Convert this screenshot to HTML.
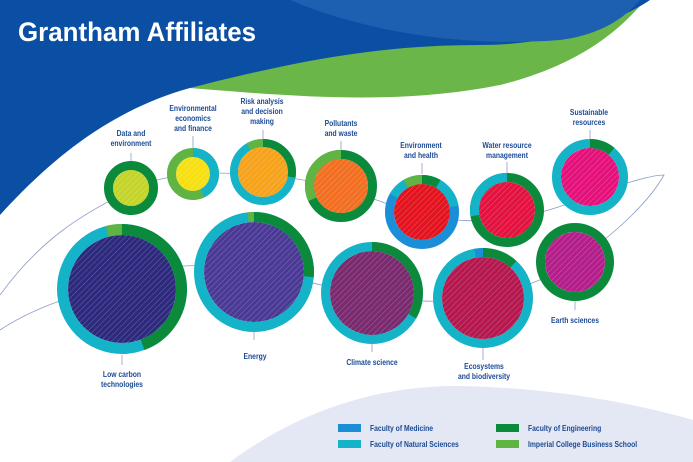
<!DOCTYPE html>
<html><head><meta charset="utf-8"><style>
html,body{margin:0;padding:0;background:#fff}
svg{display:block}
.l{font-family:"Liberation Sans",sans-serif;font-weight:bold;font-size:8.3px;fill:#1b4a94;text-anchor:middle}
.g{font-family:"Liberation Sans",sans-serif;font-weight:bold;font-size:8.3px;fill:#1b4a94}
</style></head><body>
<svg width="693" height="462" viewBox="0 0 693 462" xmlns="http://www.w3.org/2000/svg">
<defs>
<pattern id="h" width="4" height="4" patternUnits="userSpaceOnUse" patternTransform="rotate(45)">
<line x1="0" y1="0" x2="0" y2="4" stroke="#fff" stroke-opacity="0.35" stroke-width="0.8"/>
</pattern>
</defs>
<path d="M230,462 C300,410 380,385 460,386 C560,388 640,405 693,420 L693,462 Z" fill="#e4e7f4"/>
<path d="M190,88 C300,97 400,105 500,85 C580,65 620,30 645,0 L300,0 Z" fill="#6ab648"/>
<path d="M0,0 H693 L650,0 C620,20 560,45 480,45 C380,45 300,60 190,88 C110,110 50,160 0,215 Z" fill="#0a4fa3"/>
<path d="M290,0 C360,30 460,48 560,40 C600,35 625,18 640,0 Z" fill="#1d5fb0"/>
<text transform="translate(18,41) scale(0.96,1)" font-family="Liberation Sans,sans-serif" font-weight="bold" font-size="27" fill="#fff">Grantham Affiliates</text>
<g fill="none" stroke="#8d9cc8" stroke-width="0.8">
<path d="M0,295 C40,240 80,215 131,190 C160,175 200,170 263,175 C300,178 330,185 341,188 C380,200 400,210 422,215 C470,225 520,225 590,195 C620,185 650,175 664,175 C650,200 620,230 575,262"/>
<path d="M0,330 C30,310 60,300 122,280 C170,260 220,265 254,270 C300,280 340,290 372,295 C420,305 460,300 483,300 C520,290 550,275 575,265"/>
</g>
<g stroke="#8d9cc8" stroke-width="0.8">
<line x1="131" y1="153" x2="131" y2="161"/><line x1="193" y1="136" x2="193" y2="148"/>
<line x1="263" y1="130" x2="263" y2="139"/><line x1="341" y1="141" x2="341" y2="150"/>
<line x1="422" y1="163" x2="422" y2="174"/><line x1="507" y1="162" x2="507" y2="173"/>
<line x1="590" y1="130" x2="590" y2="139"/><line x1="122" y1="355" x2="122" y2="365"/>
<line x1="254" y1="330" x2="254" y2="340"/><line x1="372" y1="342" x2="372" y2="352"/>
<line x1="483" y1="348" x2="483" y2="360"/><line x1="575" y1="301" x2="575" y2="310"/>
</g>
<g fill="none">
<circle cx="131" cy="188" r="18" fill="#c5d42a"/><circle cx="131" cy="188" r="18" fill="url(#h)"/>
<circle cx="131" cy="188" r="22.5" stroke="#0a8a3a" stroke-width="9"/>
<circle cx="193" cy="174" r="17" fill="#f7e011"/><circle cx="193" cy="174" r="17" fill="url(#h)"/>
<circle cx="193" cy="174" r="21.5" stroke="#5fb443" stroke-width="9"/>
<circle cx="193" cy="174" r="21.5" stroke="#14b3c8" stroke-width="9" pathLength="360" stroke-dasharray="155 360" transform="rotate(-90 193 174)"/>
<circle cx="263" cy="172" r="25" fill="#f7a21b"/><circle cx="263" cy="172" r="25" fill="url(#h)"/>
<circle cx="263" cy="172" r="29" stroke="#14b3c8" stroke-width="8"/>
<circle cx="263" cy="172" r="29" stroke="#0a8a3a" stroke-width="8" pathLength="360" stroke-dasharray="100 360" transform="rotate(-90 263 172)"/>
<circle cx="263" cy="172" r="29" stroke="#5fb443" stroke-width="8" pathLength="360" stroke-dasharray="30 360" stroke-dashoffset="-330" transform="rotate(-90 263 172)"/>
<circle cx="341" cy="186" r="27" fill="#f26f21"/><circle cx="341" cy="186" r="27" fill="url(#h)"/>
<circle cx="341" cy="186" r="31.5" stroke="#0a8a3a" stroke-width="9"/>
<circle cx="341" cy="186" r="31.5" stroke="#5fb443" stroke-width="9" pathLength="360" stroke-dasharray="115 360" stroke-dashoffset="-245" transform="rotate(-90 341 186)"/>
<circle cx="422" cy="212" r="28" fill="#e3141f"/><circle cx="422" cy="212" r="28" fill="url(#h)"/>
<circle cx="422" cy="212" r="32.5" stroke="#1a8fd8" stroke-width="9"/>
<circle cx="422" cy="212" r="32.5" stroke="#0a8a3a" stroke-width="9" pathLength="360" stroke-dasharray="30 360" transform="rotate(-90 422 212)"/>
<circle cx="422" cy="212" r="32.5" stroke="#14b3c8" stroke-width="9" pathLength="360" stroke-dasharray="50 360" stroke-dashoffset="-30" transform="rotate(-90 422 212)"/>
<circle cx="422" cy="212" r="32.5" stroke="#14b3c8" stroke-width="9" pathLength="360" stroke-dasharray="30 360" stroke-dashoffset="-300" transform="rotate(-90 422 212)"/>
<circle cx="422" cy="212" r="32.5" stroke="#5fb443" stroke-width="9" pathLength="360" stroke-dasharray="30 360" stroke-dashoffset="-330" transform="rotate(-90 422 212)"/>
<circle cx="507" cy="210" r="28" fill="#e3123f"/><circle cx="507" cy="210" r="28" fill="url(#h)"/>
<circle cx="507" cy="210" r="32.5" stroke="#0a8a3a" stroke-width="9"/>
<circle cx="507" cy="210" r="32.5" stroke="#14b3c8" stroke-width="9" pathLength="360" stroke-dasharray="100 360" stroke-dashoffset="-260" transform="rotate(-90 507 210)"/>
<circle cx="590" cy="177" r="29" fill="#e4117a"/><circle cx="590" cy="177" r="29" fill="url(#h)"/>
<circle cx="590" cy="177" r="33.5" stroke="#14b3c8" stroke-width="9"/>
<circle cx="590" cy="177" r="33.5" stroke="#0a8a3a" stroke-width="9" pathLength="360" stroke-dasharray="40 360" transform="rotate(-90 590 177)"/>
<circle cx="122" cy="289" r="54" fill="#2d2a7e"/><circle cx="122" cy="289" r="54" fill="url(#h)"/>
<circle cx="122" cy="289" r="59.5" stroke="#14b3c8" stroke-width="11"/>
<circle cx="122" cy="289" r="59.5" stroke="#0a8a3a" stroke-width="11" pathLength="360" stroke-dasharray="160 360" transform="rotate(-90 122 289)"/>
<circle cx="122" cy="289" r="59.5" stroke="#5fb443" stroke-width="11" pathLength="360" stroke-dasharray="14 360" stroke-dashoffset="-346" transform="rotate(-90 122 289)"/>
<circle cx="254" cy="272" r="50" fill="#4a3a95"/><circle cx="254" cy="272" r="50" fill="url(#h)"/>
<circle cx="254" cy="272" r="55" stroke="#14b3c8" stroke-width="10"/>
<circle cx="254" cy="272" r="55" stroke="#0a8a3a" stroke-width="10" pathLength="360" stroke-dasharray="95 360" transform="rotate(-90 254 272)"/>
<circle cx="254" cy="272" r="55" stroke="#5fb443" stroke-width="10" pathLength="360" stroke-dasharray="6 360" stroke-dashoffset="-354" transform="rotate(-90 254 272)"/>
<circle cx="372" cy="293" r="42" fill="#7a2a6e"/><circle cx="372" cy="293" r="42" fill="url(#h)"/>
<circle cx="372" cy="293" r="46.5" stroke="#14b3c8" stroke-width="9"/>
<circle cx="372" cy="293" r="46.5" stroke="#0a8a3a" stroke-width="9" pathLength="360" stroke-dasharray="120 360" transform="rotate(-90 372 293)"/>
<circle cx="483" cy="298" r="41" fill="#b5184f"/><circle cx="483" cy="298" r="41" fill="url(#h)"/>
<circle cx="483" cy="298" r="45.5" stroke="#14b3c8" stroke-width="9"/>
<circle cx="483" cy="298" r="45.5" stroke="#0a8a3a" stroke-width="9" pathLength="360" stroke-dasharray="42 360" transform="rotate(-90 483 298)"/>
<circle cx="483" cy="298" r="45.5" stroke="#1a8fd8" stroke-width="9" pathLength="360" stroke-dasharray="10 360" stroke-dashoffset="-350" transform="rotate(-90 483 298)"/>
<circle cx="575" cy="262" r="30" fill="#b41e8a"/><circle cx="575" cy="262" r="30" fill="url(#h)"/>
<circle cx="575" cy="262" r="34.5" stroke="#0a8a3a" stroke-width="9"/>
</g>
<g class="l">
<text class="l" transform="translate(131,136) scale(0.82,1)">Data and</text><text class="l" transform="translate(131,146) scale(0.82,1)">environment</text>
<text class="l" transform="translate(193,111) scale(0.82,1)">Environmental</text><text class="l" transform="translate(193,121) scale(0.82,1)">economics</text><text class="l" transform="translate(193,131) scale(0.82,1)">and finance</text>
<text class="l" transform="translate(262,104) scale(0.82,1)">Risk analysis</text><text class="l" transform="translate(262,114) scale(0.82,1)">and decision</text><text class="l" transform="translate(262,124) scale(0.82,1)">making</text>
<text class="l" transform="translate(341,126) scale(0.82,1)">Pollutants</text><text class="l" transform="translate(341,136) scale(0.82,1)">and waste</text>
<text class="l" transform="translate(421,148) scale(0.82,1)">Environment</text><text class="l" transform="translate(421,158) scale(0.82,1)">and health</text>
<text class="l" transform="translate(507,148) scale(0.82,1)">Water resource</text><text class="l" transform="translate(507,158) scale(0.82,1)">management</text>
<text class="l" transform="translate(589,115) scale(0.82,1)">Sustainable</text><text class="l" transform="translate(589,125) scale(0.82,1)">resources</text>
<text class="l" transform="translate(122,377) scale(0.82,1)">Low carbon</text><text class="l" transform="translate(122,387) scale(0.82,1)">technologies</text>
<text class="l" transform="translate(255,359) scale(0.82,1)">Energy</text>
<text class="l" transform="translate(372,365) scale(0.82,1)">Climate science</text>
<text class="l" transform="translate(484,369) scale(0.82,1)">Ecosystems</text><text class="l" transform="translate(484,379) scale(0.82,1)">and biodiversity</text>
<text class="l" transform="translate(575,323) scale(0.82,1)">Earth sciences</text>
</g>
<rect x="338" y="424" width="23" height="8" fill="#1a8fd8"/>
<rect x="338" y="440" width="23" height="8" fill="#14b3c8"/>
<rect x="496" y="424" width="23" height="8" fill="#0a8a3a"/>
<rect x="496" y="440" width="23" height="8" fill="#5fb443"/>
<text class="g" transform="translate(370,431) scale(0.82,1)">Faculty of Medicine</text>
<text class="g" transform="translate(370,447) scale(0.82,1)">Faculty of Natural Sciences</text>
<text class="g" transform="translate(528,431) scale(0.82,1)">Faculty of Engineering</text>
<text class="g" transform="translate(528,447) scale(0.82,1)">Imperial College Business School</text>
</svg>
</body></html>
